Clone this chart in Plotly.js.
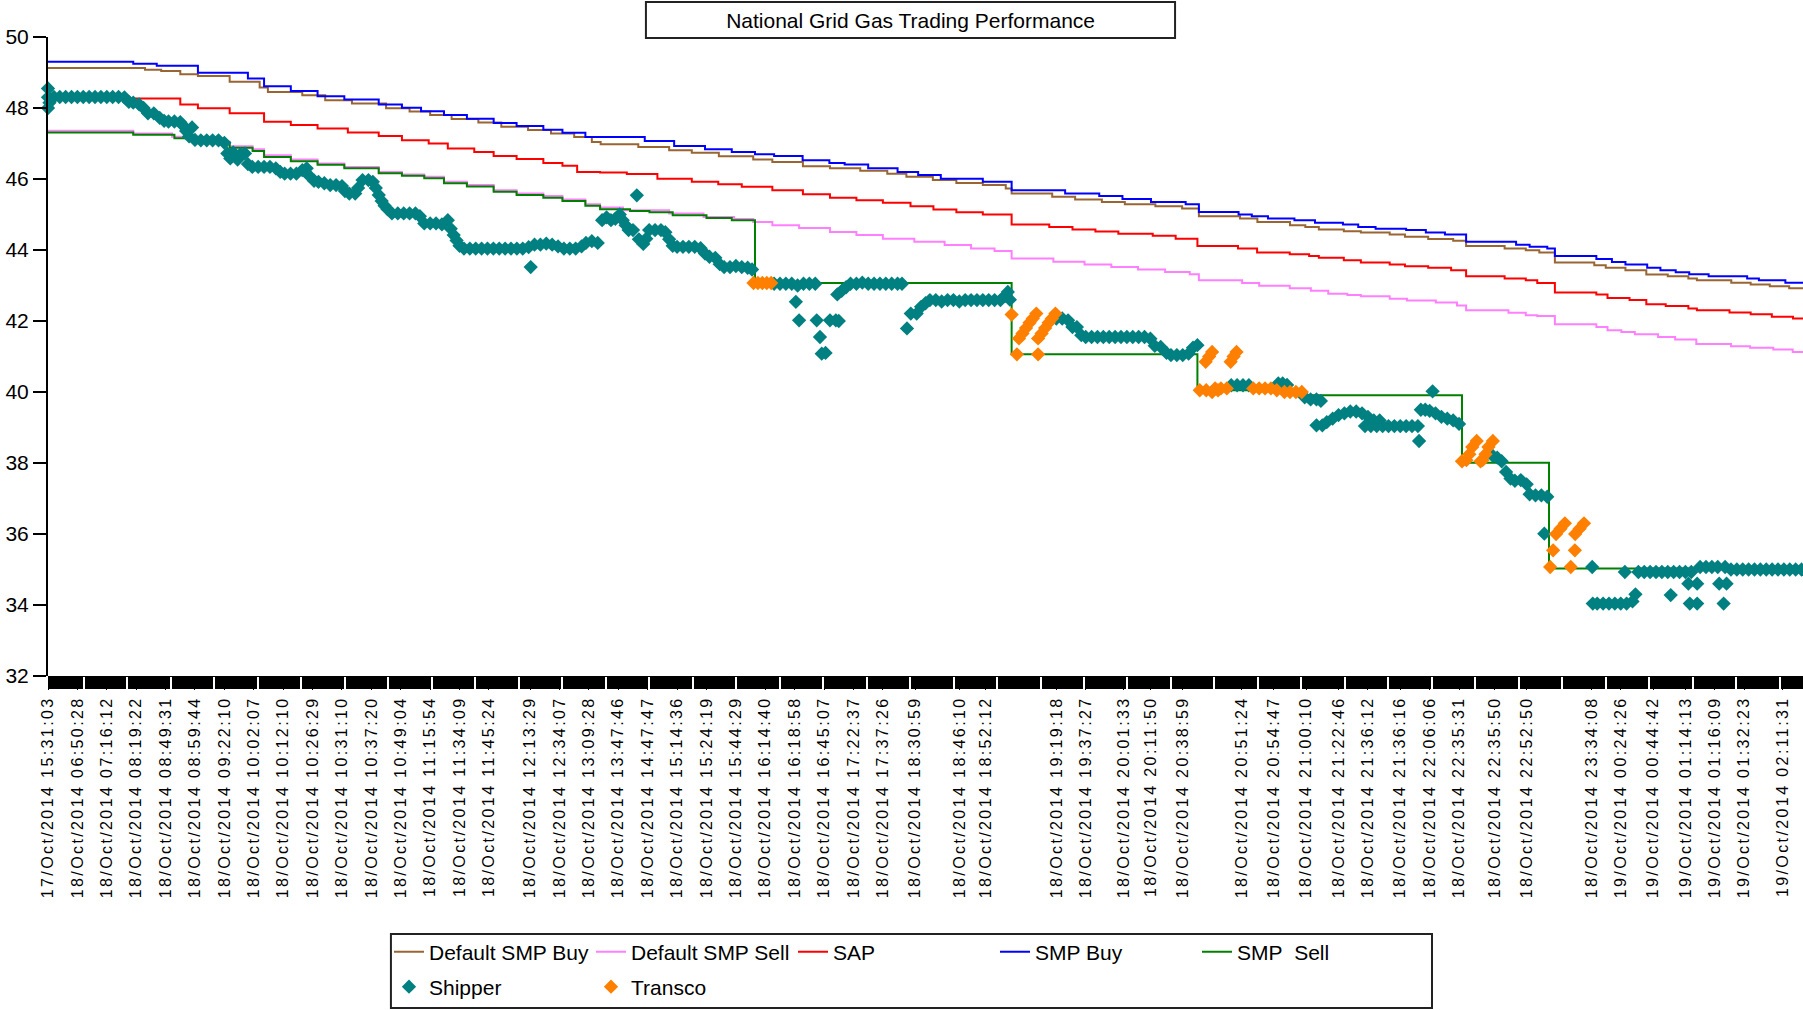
<!DOCTYPE html>
<html>
<head>
<meta charset="utf-8">
<script src="https://cdn.plot.ly/plotly-3.0.1.min.js"></script>
<style>
  html, body { margin: 0; padding: 0; background: #fff; }
  #chart { width: 1803px; height: 1010px; }
  .xtick text { letter-spacing: 2.4px; }
</style>
</head>
<body>
<div id="chart"></div>
<script>
// ---------- DATA (x = trade sequence number, y = price) ----------
const tickIdx = [0,10,20,30,40,50,60,70,80,90,100,110,120,130,140,150,164,174,184,194,204,214,224,234,244,254,264,274,284,295,310,319,343,353,366,375,386,406,417,428,439,449,460,470,480,492,503,525,535,546,557,567,577,590];
const tickLabels = ["17/Oct/2014 15:31:03","18/Oct/2014 06:50:28","18/Oct/2014 07:16:12","18/Oct/2014 08:19:22","18/Oct/2014 08:49:31","18/Oct/2014 08:59:44","18/Oct/2014 09:22:10","18/Oct/2014 10:02:07","18/Oct/2014 10:12:10","18/Oct/2014 10:26:29","18/Oct/2014 10:31:10","18/Oct/2014 10:37:20","18/Oct/2014 10:49:04","18/Oct/2014 11:15:54","18/Oct/2014 11:34:09","18/Oct/2014 11:45:24","18/Oct/2014 12:13:29","18/Oct/2014 12:34:07","18/Oct/2014 13:09:28","18/Oct/2014 13:47:46","18/Oct/2014 14:47:47","18/Oct/2014 15:14:36","18/Oct/2014 15:24:19","18/Oct/2014 15:44:29","18/Oct/2014 16:14:40","18/Oct/2014 16:18:58","18/Oct/2014 16:45:07","18/Oct/2014 17:22:37","18/Oct/2014 17:37:26","18/Oct/2014 18:30:59","18/Oct/2014 18:46:10","18/Oct/2014 18:52:12","18/Oct/2014 19:19:18","18/Oct/2014 19:37:27","18/Oct/2014 20:01:33","18/Oct/2014 20:11:50","18/Oct/2014 20:38:59","18/Oct/2014 20:51:24","18/Oct/2014 20:54:47","18/Oct/2014 21:00:10","18/Oct/2014 21:22:46","18/Oct/2014 21:36:12","18/Oct/2014 21:36:16","18/Oct/2014 22:06:06","18/Oct/2014 22:35:31","18/Oct/2014 22:35:50","18/Oct/2014 22:52:50","18/Oct/2014 23:34:08","19/Oct/2014 00:24:26","19/Oct/2014 00:44:42","19/Oct/2014 01:14:13","19/Oct/2014 01:16:09","19/Oct/2014 01:32:23","19/Oct/2014 02:11:31"];

const defaultSmpBuy = [[0,49.13],[33,49.08],[38.5,49.04],[45,48.95],[51,48.90],[61.8,48.74],[72,48.58],[74.8,48.45],[86.5,48.36],[94.3,48.22],[103.4,48.13],[115,47.99],[123,47.90],[130,47.80],[137.3,47.69],[146.4,47.59],[154.2,47.47],[163.3,47.38],[171.1,47.28],[179,47.18],[185,47.04],[188,46.98],[200.8,46.90],[211.3,46.81],[219,46.74],[228.2,46.64],[239.9,46.55],[246.4,46.48],[256.8,46.36],[266,46.30],[276.3,46.23],[285.5,46.15],[292,46.06],[301,45.97],[309,45.89],[318,45.83],[325.8,45.73],[327.8,45.59],[341.6,45.50],[349.4,45.42],[358.5,45.35],[366.3,45.29],[376.7,45.23],[385.8,45.17],[391.5,44.95],[405.5,44.89],[411.4,44.79],[422.5,44.70],[427.7,44.65],[432.3,44.58],[440.8,44.53],[446.6,44.49],[456.4,44.44],[461.6,44.37],[469.5,44.31],[478,44.26],[482.4,44.11],[495.5,44.04],[502.7,43.99],[507.3,43.93],[512.6,43.65],[526,43.57],[529.9,43.50],[536.6,43.43],[543.7,43.31],[551,43.26],[558,43.20],[560.9,43.15],[572.6,43.08],[579.2,43.03],[585.7,42.98],[592.3,42.92],[597,42.92]];

const defaultSmpSell = [[0,47.36],[29,47.28],[42.2,47.19],[50,47.05],[61.8,46.92],[69.6,46.84],[73.5,46.67],[82.6,46.55],[91.7,46.44],[100.8,46.34],[112.5,46.20],[120.4,46.13],[128,46.06],[134.7,45.92],[142.5,45.83],[151.6,45.68],[159.4,45.59],[168.5,45.52],[175,45.42],[182.8,45.29],[187.8,45.20],[195.6,45.12],[211.3,45.03],[223,44.93],[233.4,44.87],[239.9,44.79],[246.4,44.70],[255.5,44.62],[266,44.51],[275,44.42],[284,44.32],[294.7,44.23],[305,44.14],[314,44.04],[322,43.97],[327.8,43.76],[342,43.67],[352.6,43.59],[361.7,43.52],[370.8,43.45],[380,43.38],[388.4,43.32],[391.5,43.15],[406.2,43.07],[412,42.99],[422.4,42.92],[429.6,42.85],[435.5,42.77],[442,42.73],[446.6,42.70],[456.4,42.63],[462.3,42.58],[472.1,42.52],[479.3,42.44],[482.4,42.30],[496.8,42.23],[502.7,42.16],[506.6,42.14],[512.6,41.91],[526.7,41.83],[530.5,41.74],[535.2,41.69],[539.8,41.63],[547.7,41.55],[553.5,41.48],[560.7,41.35],[572.5,41.29],[579,41.25],[586.9,41.20],[593.5,41.13],[597,41.13]];

const sap = [[0,48.27],[45,48.10],[51,47.99],[61.8,47.85],[73.5,47.61],[82.6,47.52],[91.7,47.42],[102,47.31],[112.5,47.21],[120.4,47.09],[129.5,47.00],[136,46.86],[145,46.76],[151.6,46.65],[159.4,46.56],[168.5,46.45],[175,46.37],[180,46.20],[187.8,46.18],[196.9,46.14],[207.3,46.01],[219,45.92],[228,45.85],[236,45.78],[246.4,45.68],[256.8,45.57],[266,45.47],[275,45.40],[284,45.33],[293.4,45.23],[301.2,45.14],[309,45.06],[318,45.00],[327.8,44.72],[340.6,44.65],[348.5,44.58],[356.3,44.52],[364.1,44.46],[375.8,44.40],[383.6,44.32],[391,44.11],[404.8,44.04],[411.3,43.93],[422.4,43.88],[429,43.83],[432.3,43.78],[440.8,43.71],[446.6,43.65],[456.4,43.59],[461.6,43.54],[469.5,43.50],[477.3,43.43],[482.4,43.26],[495.5,43.20],[502.7,43.15],[506.6,43.07],[512.6,42.80],[526.7,42.75],[530.5,42.65],[538,42.59],[543.7,42.47],[550.3,42.42],[558,42.35],[560.9,42.30],[572,42.24],[579.2,42.19],[586.4,42.12],[593.6,42.07],[597,42.07]];

const smpBuy = [[0,49.30],[29,49.25],[37,49.19],[51,48.99],[68,48.83],[73.5,48.61],[82.6,48.48],[91.7,48.33],[100.8,48.24],[112.5,48.10],[120.4,48.01],[126.9,47.91],[134.7,47.80],[142.5,47.70],[151.6,47.58],[159.4,47.49],[168.5,47.39],[175,47.30],[182.8,47.18],[203,47.07],[213,46.93],[223.5,46.84],[232.6,46.76],[240.5,46.70],[247,46.65],[256.7,46.53],[265.8,46.45],[271,46.41],[279,46.30],[289,46.20],[296,46.11],[303.7,46.01],[318,45.92],[327.8,45.68],[346,45.59],[357.6,45.52],[365.5,45.44],[375.2,45.35],[387,45.29],[391.5,45.07],[405,45.00],[409.5,44.95],[415,44.89],[424,44.84],[431,44.77],[440.5,44.72],[445.7,44.65],[451.6,44.60],[462,44.56],[468.7,44.49],[475.2,44.44],[482.4,44.23],[499.4,44.15],[504,44.09],[510,44.04],[512.6,43.83],[526.7,43.75],[532,43.66],[536.6,43.59],[544,43.50],[548.5,43.43],[553.7,43.37],[558.3,43.32],[564.9,43.26],[578,43.20],[582,43.15],[591,43.08],[597,43.08]];

const smpSell = [[0,47.31],[29,47.25],[43,47.15],[50,47.02],[61.8,46.88],[69.6,46.79],[73.5,46.62],[82.6,46.50],[91.7,46.40],[100.8,46.30],[112.5,46.16],[120.4,46.09],[128,46.02],[134.7,45.88],[142.5,45.79],[151.6,45.64],[159.4,45.55],[168.5,45.47],[175,45.38],[182.8,45.25],[187.8,45.15],[198,45.10],[204.6,45.06],[212.5,44.98],[224,44.90],[232.6,44.84],[240.5,43.07],[327.8,41.06],[391,40.05],[425,39.91],[481,38.01],[510.6,35.03],[597,35.03]];

const shipper = [[0,48.55],[0,48.3],[0,48.0],[0.5,48.15],[2,48.31],[4,48.31],[6,48.31],[8,48.31],[10,48.31],[12,48.31],[14,48.31],[16,48.31],[18,48.31],[20,48.31],[22,48.31],[24,48.31],[26,48.3],
[27.5,48.17],[29,48.15],[31,48.1],[32.5,48.0],[34,47.85],[36,47.85],[38,47.72],[39.5,47.64],[41,47.62],[43,47.62],[45,47.6],[46,47.5],[47,47.35],[48,47.2],[49,47.45],[50,47.1],[52,47.09],[54,47.09],[56,47.09],[58,47.09],[60,47.02],[61,46.72],[62,46.58],[63,46.75],[64.5,46.55],[65.5,46.7],[67,46.72],[68,46.42],[69.5,46.34],[71.5,46.34],[73.5,46.34],[75.5,46.34],[77.5,46.3],[79,46.2],[80.5,46.15],[82.5,46.15],[84.5,46.15],[86.5,46.25],[88,46.3],[89,46.08],[90.5,45.95],[92,45.92],[94,45.88],[96,45.83],[98,45.83],[100,45.8],[101,45.66],[102.5,45.59],[104.5,45.59],[105.5,45.75],[107,45.97],[109,45.97],[110.5,45.92],[111.5,45.75],[112.5,45.55],[113.5,45.38],[114.5,45.25],[115.5,45.15],[117,45.03],[119,45.03],[121,45.03],[123,45.03],[125,45.03],[126.5,44.95],[128,44.75],[130,44.75],[132,44.75],[134,44.72],[136,44.84],[137,44.6],[138,44.42],[139,44.27],[140,44.12],[141.5,44.04],[143.5,44.04],[145.5,44.04],[147.5,44.04],[149.5,44.04],[151.5,44.04],[153.5,44.04],[155.5,44.04],[157.5,44.04],[159.5,44.04],[161.5,44.04],[163.5,44.08],[164.2,43.52],[165.5,44.15],[167.5,44.15],[169.5,44.18],[171.5,44.15],[173.5,44.1],[175.5,44.04],[177.5,44.04],[179.5,44.04],[181.5,44.1],[183,44.2],[185,44.25],[187,44.2],
[188.5,44.84],[190,44.92],[191.5,44.84],[193,44.88],[194.5,45.0],[195.5,44.84],[196.5,44.7],[197.5,44.56],[199,44.56],[200.3,45.54],[201,44.3],[202.5,44.17],[203.5,44.32],[204.5,44.56],[206.5,44.56],[208.5,44.56],[210,44.5],[211.3,44.3],[212.5,44.12],[214,44.09],[216,44.09],[218,44.09],[220,44.09],[222,44.05],[223.5,43.9],[225,43.81],[227,43.78],[228.5,43.6],[230,43.52],[232,43.52],[234,43.55],[236,43.52],[238,43.5],[239.5,43.45],
[247,43.05],[249,43.05],[251,43.05],[253,43.05],[254.4,42.54],[255.5,42.02],[255,43.0],[257,43.05],[259,43.05],[261,43.05],[261.5,42.02],[262.6,41.55],[263.2,41.08],[264.5,41.1],[266,42.02],[268,42.02],[269,42.0],[268.5,42.75],[270,42.85],[271.5,42.95],[273,43.05],[275,43.05],[277,43.08],[279,43.05],[281,43.05],[283,43.05],[285,43.05],[287,43.05],[289,43.05],[290.5,43.05],
[292.2,41.79],[293.5,42.21],[295.5,42.21],[297,42.4],[298.5,42.5],[300,42.59],[302,42.59],[304,42.55],[306,42.59],[308,42.59],[310,42.55],[312,42.59],[314,42.59],[316,42.59],[318,42.59],[320,42.59],[322,42.59],[324,42.59],[325.5,42.7],[326.5,42.82],[327.2,42.6],
[343,42.07],[345,42.07],[347,42.02],[348.5,41.83],[350,41.83],[351.5,41.6],[353,41.55],[355,41.55],[357,41.55],[359,41.55],[361,41.55],[363,41.55],[365,41.55],[367,41.55],[369,41.55],[371,41.55],[373,41.55],[375,41.5],[376.5,41.3],[378.5,41.27],[380.5,41.1],[382,41.04],[384,41.04],[386,41.04],[388,41.08],[389.5,41.25],[391,41.32],
[402.5,40.19],[404.5,40.19],[406.5,40.19],[408.5,40.19],[418.5,40.24],[420,40.24],[421.5,40.2],[427.5,39.85],[429.5,39.79],[431.5,39.79],[433,39.75],[431.5,39.06],[433.5,39.06],[435,39.15],[437,39.25],[439,39.35],[441,39.4],[443,39.45],[445,39.45],[447,39.4],[449,39.3],[451,39.2],[453,39.2],[448,39.04],[450,39.04],[452,39.04],[454,39.04],[456,39.04],[458,39.04],[460,39.04],[462,39.04],[464,39.04],[466,39.04],[466.4,38.62],[467,39.5],[468.5,39.5],[470,39.47],[471,40.02],[472,39.4],[474,39.3],[476,39.25],[478,39.2],[480,39.1],
[491.5,38.2],[493,38.15],[494.5,38.05],[496,37.75],[497.5,37.56],[499,37.5],[501,37.52],[503,37.4],[504,37.12],[506,37.09],[508,37.09],[509,36.01],[510,37.05],
[525.3,35.07],[525.5,34.04],[527,34.04],[529,34.04],[531,34.04],[533,34.04],[535,34.04],[536.4,34.93],[537,34.04],[539,34.1],[540,34.3],[541,34.93],[543,34.93],[545,34.93],[547,34.93],[549,34.93],[551,34.93],[552,34.28],[553,34.93],[555,34.93],[557,34.93],[558,34.6],[558.5,34.04],[559,34.93],[561,34.6],[561,34.04],[562,35.07],[564,35.07],[566,35.07],[568,35.07],[568.5,34.6],[570,34.04],[570.5,35.07],[571,34.6],[572.5,35.0],[574.5,35.0],[576.5,35.0],[578.5,35.0],[580.5,35.0],[582.5,35.0],[584.5,35.0],[586.5,35.0],[588.5,35.0],[590.5,35.0],[592.5,35.0],[594.5,35.0],[596.5,35.0]];

const transco = [[240,43.07],[241.5,43.07],[243,43.07],[244.5,43.07],[246,43.07],
[327.8,42.18],[329.6,41.06],[330.3,41.51],[331.5,41.65],[332.7,41.8],[333.9,41.95],[335,42.07],[336.2,42.21],[336.8,41.06],[336.8,41.51],[338,41.65],[339.2,41.8],[340.4,41.95],[341.5,42.07],[342.7,42.21],
[391.8,40.05],[393.8,40.85],[395,41.0],[396,41.13],[394,40.05],[396,40.0],[398,40.05],[397,40.1],[399,40.1],[401,40.1],[402.3,40.85],[403.3,41.0],[404.3,41.13],
[410,40.1],[412,40.1],[414,40.1],[416,40.1],[418,40.05],[420.6,40.0],[422.5,40.0],[424.5,40.0],[426.5,40.0],
[481,38.05],[482.5,38.08],[483.5,38.25],[484.5,38.45],[486,38.62],[487.3,38.05],[488,38.08],[489,38.25],[490,38.45],[491.5,38.62],
[511,35.07],[512,35.54],[513,36.0],[514.5,36.15],[516,36.3],[518,35.07],[519.4,35.54],[519.5,36.0],[521,36.15],[522.5,36.3]];

// ---------- CHART ----------
const FONT = 'Arial, "Liberation Sans", sans-serif';
const xs = a => a.map(p => p[0]);
const ys = a => a.map(p => p[1]);

function stepTrace(name, data, color) {
  return { type: 'scatter', mode: 'lines', name: name, x: xs(data), y: ys(data),
    line: { color: color, width: 2, shape: 'hv' }, hoverinfo: 'skip', cliponaxis: false };
}
function pointTrace(name, data, color) {
  return { type: 'scatter', mode: 'markers', name: name, x: xs(data), y: ys(data),
    marker: { symbol: 'diamond', size: 11, color: color, line: { width: 0 } },
    hoverinfo: 'skip', cliponaxis: false, legend: 'legend2' };
}

const traces = [
  stepTrace('Default SMP Buy', defaultSmpBuy, '#996633'),
  stepTrace('Default SMP Sell', defaultSmpSell, '#FF80FF'),
  stepTrace('SAP', sap, '#FF0000'),
  stepTrace('SMP Buy', smpBuy, '#0000FF'),
  stepTrace('SMP\u00a0 Sell', smpSell, '#008000'),
  pointTrace('Shipper', shipper, '#008080'),
  pointTrace('Transco', transco, '#FF8000'),
  { type: 'scatter', mode: 'markers', x: [], y: [], xaxis: 'x2', showlegend: false, hoverinfo: 'skip' }
];

const legendCommon = {
  orientation: 'h', xanchor: 'left', x: 0.1943, yanchor: 'middle',
  entrywidth: 157, entrywidthmode: 'pixels', itemwidth: 30,
  font: { family: FONT, size: 21, color: '#000' },
  bgcolor: 'rgba(0,0,0,0)', borderwidth: 0, traceorder: 'normal'
};

const layout = {
  width: 1803, height: 1010,
  margin: { l: 48, r: 0, t: 37, b: 334, pad: 0, autoexpand: false },
  paper_bgcolor: '#ffffff', plot_bgcolor: '#ffffff',
  font: { family: FONT, size: 21, color: '#000' },
  title: { text: 'National Grid Gas Trading Performance', font: { family: FONT, size: 21, color: '#000' },
    xref: 'paper', x: 0.4915, xanchor: 'center', yref: 'container', y: 0.980, yanchor: 'middle' },
  showlegend: true,
  legend: Object.assign({}, legendCommon, { y: -0.4319 }),
  legend2: Object.assign({}, legendCommon, { y: -0.4867 }),
  xaxis: { range: [0, 597], tickmode: 'array', tickvals: tickIdx, ticktext: tickLabels,
    tickangle: -90, ticks: 'outside', ticklen: 13, tickwidth: 1, tickcolor: '#000',
    tickfont: { family: FONT, size: 16, color: '#000' },
    showgrid: false, zeroline: false, showline: false, fixedrange: true },
  xaxis2: { overlaying: 'x', anchor: 'y', side: 'bottom', range: [0, 597],
    tickmode: 'linear', tick0: 12.24, dtick: 14.79, ticks: 'outside', ticklen: 13, tickwidth: 2,
    tickcolor: '#ffffff', showticklabels: false, showgrid: false, zeroline: false, showline: false },
  yaxis: { range: [32, 50], tickmode: 'linear', tick0: 32, dtick: 2, ticks: 'outside', ticklen: 13,
    tickwidth: 2, tickcolor: '#000', showline: true, linecolor: '#000', linewidth: 2,
    showgrid: false, zeroline: false, tickfont: { family: FONT, size: 21, color: '#000' } },
  shapes: [
    { type: 'rect', xref: 'paper', yref: 'paper', x0: 0, x1: 1, y0: -0.0203, y1: 0,
      fillcolor: '#000', line: { width: 0 }, layer: 'below' },
    { type: 'rect', xref: 'paper', yref: 'paper', x0: 0.3407, x1: 0.6422, y0: 0.9984, y1: 1.0548,
      fillcolor: 'rgba(0,0,0,0)', line: { color: '#222', width: 2 } },
    { type: 'rect', xref: 'paper', yref: 'paper', x0: 0.1954, x1: 0.7886, y0: -0.5196, y1: -0.4038,
      fillcolor: 'rgba(0,0,0,0)', line: { color: '#222', width: 2 } }
  ]
};

Plotly.newPlot('chart', traces, layout, { displayModeBar: false, staticPlot: true });
</script>
</body>
</html>
